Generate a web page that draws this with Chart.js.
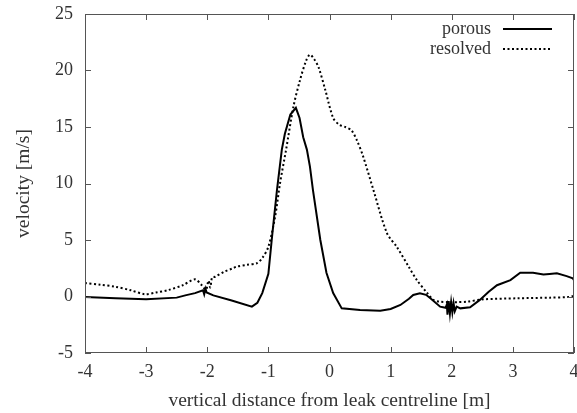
<!DOCTYPE html>
<html>
<head>
<meta charset="utf-8">
<script src="https://cdn.jsdelivr.net/npm/chart.js@4.4.1/dist/chart.umd.min.js"></script>
<style>
  html, body { margin: 0; padding: 0; background: #fff; }
  canvas { display: block; }
</style>
</head>
<body>
<canvas id="c" width="577" height="413"></canvas>
<script>
// porous (solid) profile
const porousX = [-4, -3.5, -3, -2.5, -2.36, -2.2, -2.07, -2.05, -2.03, -2.01, -1.9, -1.6, -1.27, -1.18, -1.1, -1.0, -0.94, -0.86, -0.78, -0.73, -0.64, -0.55, -0.49, -0.43, -0.37, -0.32, -0.27, -0.15, -0.05, 0.06, 0.2, 0.5, 0.83, 1.0, 1.16, 1.3, 1.37, 1.48, 1.58, 1.65, 1.81, 1.9, 1.92, 1.93, 1.95, 1.97, 1.99, 2.01, 2.03, 2.05, 2.08, 2.14, 2.3, 2.46, 2.6, 2.74, 2.96, 3.12, 3.33, 3.5, 3.6, 3.72, 3.88, 3.98, 4.0];
const porousY = [-0.05, -0.15, -0.25, -0.1, 0.1, 0.3, 0.55, 0.2, 0.7, 0.35, 0.1, -0.35, -0.9, -0.55, 0.3, 2.0, 5.3, 9.4, 13.0, 14.4, 16.1, 16.7, 15.8, 14.1, 13.0, 11.5, 9.4, 5.0, 2.1, 0.3, -1.05, -1.2, -1.25, -1.1, -0.75, -0.2, 0.13, 0.28, 0.15, -0.16, -0.9, -1.0, -0.7, -1.6, -0.4, -1.5, -0.5, -1.4, -0.6, -1.3, -0.9, -1.05, -0.95, -0.3, 0.4, 1.0, 1.45, 2.1, 2.1, 1.95, 2.0, 2.05, 1.8, 1.6, 1.45];

// resolved (dotted) profile
const resolvedX = [-4, -3.75, -3.51, -3.25, -3.02, -2.84, -2.64, -2.4, -2.2, -2.09, -2.02, -1.98, -1.95, -1.92, -1.87, -1.72, -1.58, -1.52, -1.35, -1.19, -1.1, -1.0, -0.89, -0.81, -0.71, -0.59, -0.48, -0.38, -0.32, -0.25, -0.18, -0.07, 0.06, 0.16, 0.26, 0.36, 0.45, 0.55, 0.72, 0.94, 1.1, 1.3, 1.43, 1.6, 1.7, 1.81, 1.95, 2.1, 2.25, 2.52, 3.07, 3.61, 3.9, 4.0];
const resolvedY = [1.2, 1.05, 0.87, 0.55, 0.2, 0.35, 0.57, 1.0, 1.52, 1.0, 0.6, 1.4, 0.8, 1.7, 1.75, 2.2, 2.5, 2.64, 2.8, 2.94, 3.4, 4.4, 7.06, 10.0, 13.0, 16.8, 19.2, 20.9, 21.4, 21.0, 20.3, 18.3, 15.8, 15.2, 15.0, 14.7, 13.8, 12.4, 9.4, 5.6, 4.4, 2.6, 1.45, 0.3, -0.3, -0.46, -0.5, -0.5, -0.46, -0.25, -0.16, -0.1, -0.05, 0.05];

const xTicks = [-4, -3, -2, -1, 0, 1, 2, 3, 4];
const yTicks = [-5, 0, 5, 10, 15, 20, 25];
const seriesNames = ['porous', 'resolved'];

const FONT = '"Liberation Serif", "DejaVu Serif", serif';
const TEXT = '#333';

const toPts = (xs, ys) => xs.map((x, i) => ({ x: x, y: ys[i] }));

// gnuplot-style frame: mirrored inward ticks + key in top right
const framePlugin = {
  id: 'frame',
  afterDraw(chart) {
    const ctx = chart.ctx;
    const a = chart.chartArea;
    const xs = chart.scales.x, ys = chart.scales.y;
    const len = 6;
    ctx.save();
    ctx.strokeStyle = '#555';
    ctx.lineWidth = 1;
    ctx.strokeRect(a.left + 0.5, a.top + 0.5, a.right - a.left - 1, a.bottom - a.top - 1);
    ctx.beginPath();
    xTicks.forEach(v => {
      const px = Math.round(xs.getPixelForValue(v)) + 0.5;
      ctx.moveTo(px, a.bottom); ctx.lineTo(px, a.bottom - len);
      ctx.moveTo(px, a.top); ctx.lineTo(px, a.top + len);
    });
    yTicks.forEach(v => {
      const py = Math.round(ys.getPixelForValue(v)) + 0.5;
      ctx.moveTo(a.left, py); ctx.lineTo(a.left + len, py);
      ctx.moveTo(a.right, py); ctx.lineTo(a.right - len, py);
    });
    ctx.stroke();

    // key
    ctx.font = '18px ' + FONT;
    ctx.fillStyle = TEXT;
    ctx.textAlign = 'right';
    ctx.textBaseline = 'middle';
    const textRight = a.right - 83;
    const lineL = a.right - 71, lineR = a.right - 22;
    chart.data.datasets.forEach((ds, i) => {
      const y = a.top + 15 + i * 20;
      ctx.fillText(seriesNames[i], textRight, y);
      ctx.beginPath();
      ctx.strokeStyle = '#000';
      ctx.lineWidth = 2;
      ctx.setLineDash(ds.borderDash || []);
      ctx.moveTo(lineL, y); ctx.lineTo(lineR, y);
      ctx.stroke();
      ctx.setLineDash([]);
    });
    ctx.restore();
  }
};

new Chart(document.getElementById('c'), {
  type: 'line',
  data: {
    datasets: [
      {
        label: seriesNames[0],
        data: toPts(porousX, porousY),
        borderColor: '#000',
        borderWidth: 2,
        pointRadius: 0,
        tension: 0,
        fill: false
      },
      {
        label: seriesNames[1],
        data: toPts(resolvedX, resolvedY),
        borderColor: '#000',
        borderWidth: 2,
        borderDash: [2, 2.5],
        pointRadius: 0,
        tension: 0.3,
        fill: false
      }
    ]
  },
  options: {
    responsive: false,
    animation: false,
    devicePixelRatio: 1,
    layout: { padding: { top: 14, right: 3, left: 0, bottom: 0 } },
    plugins: {
      legend: { display: false },
      tooltip: { enabled: false }
    },
    scales: {
      x: {
        type: 'linear',
        min: -4, max: 4,
        afterBuildTicks: s => { s.ticks = xTicks.map(v => ({ value: v })); },
        afterFit: s => { s.height = 60; s.paddingRight = 0; s.paddingLeft = 0; },
        grid: { display: false, drawTicks: false },
        border: { display: false },
        ticks: { color: TEXT, font: { family: FONT, size: 18 }, padding: 8, maxRotation: 0 },
        title: {
          display: true,
          text: 'vertical distance from leak centreline [m]',
          color: TEXT,
          font: { family: FONT, size: 19.5 },
          padding: { top: 2, bottom: 0 }
        }
      },
      y: {
        type: 'linear',
        min: -5, max: 25,
        afterBuildTicks: s => { s.ticks = yTicks.map(v => ({ value: v })); },
        afterFit: s => { s.width = 85; s.paddingTop = 0; s.paddingBottom = 0; },
        grid: { display: false, drawTicks: false },
        border: { display: false },
        ticks: { color: TEXT, font: { family: FONT, size: 18 }, padding: 12 },
        title: {
          display: true,
          text: 'velocity [m/s]',
          color: TEXT,
          font: { family: FONT, size: 19.5 },
          padding: { top: 12, bottom: 4 }
        }
      }
    }
  },
  plugins: [framePlugin]
});
</script>
</body>
</html>
